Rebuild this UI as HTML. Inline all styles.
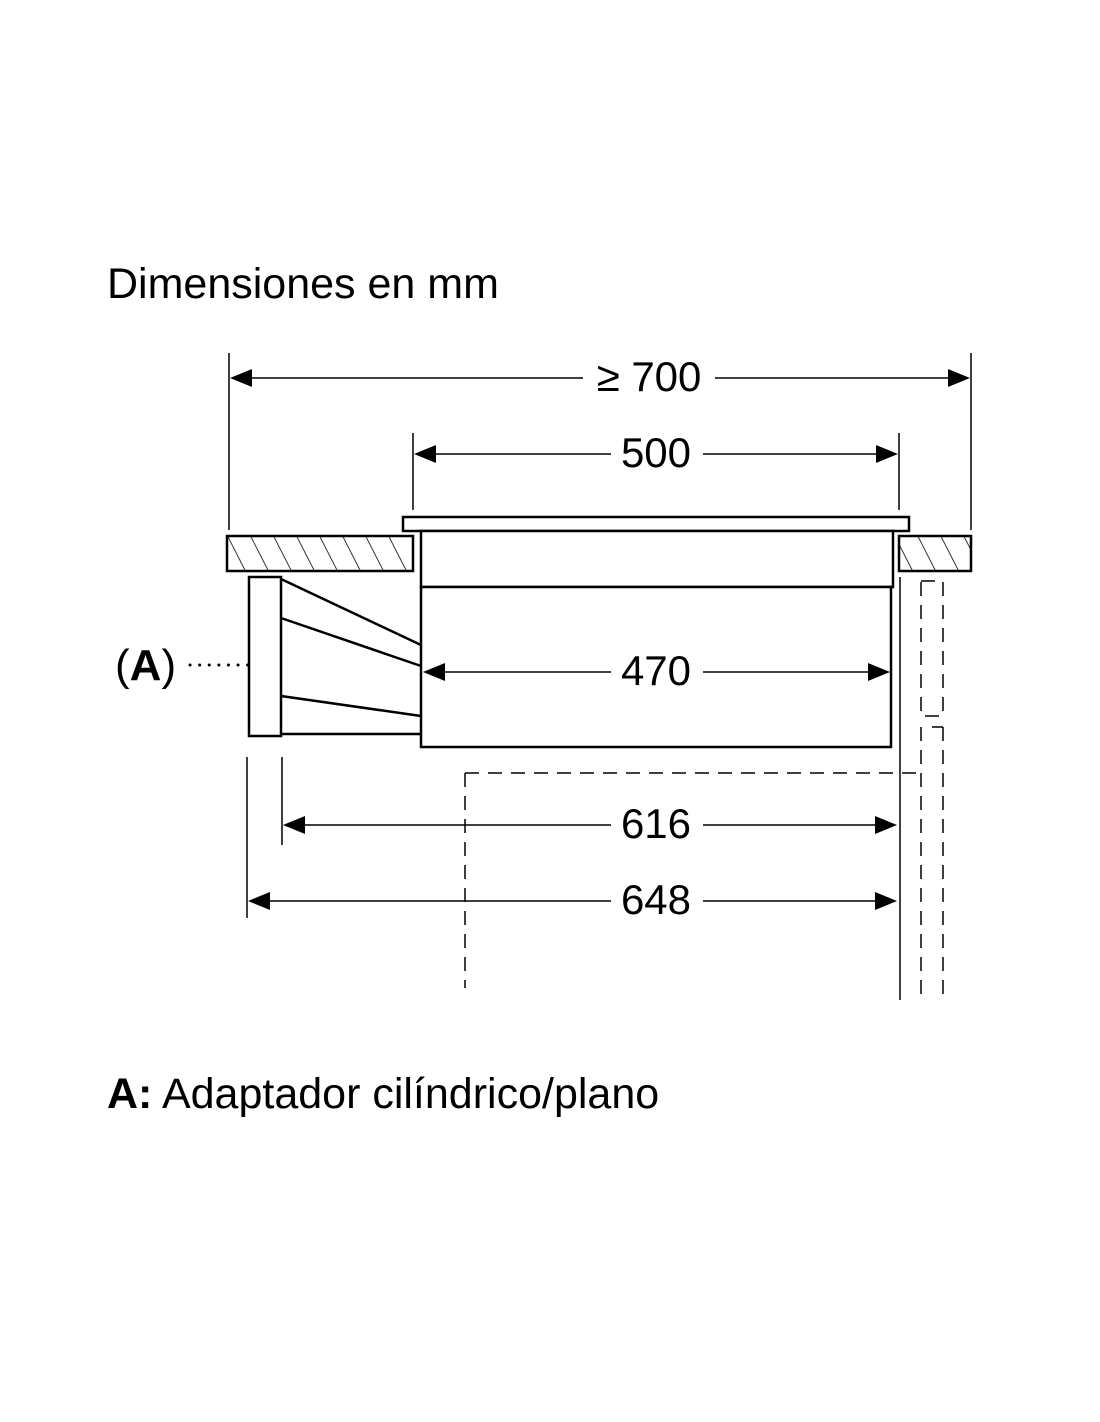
<!DOCTYPE html>
<html><head><meta charset="utf-8"><style>
html,body{margin:0;padding:0;background:#fff;}
svg{display:block;}
text{font-family:"Liberation Sans",Arial,sans-serif;fill:#000;}
</style></head><body>
<svg width="1100" height="1422" viewBox="0 0 1100 1422" xmlns="http://www.w3.org/2000/svg">
<defs>
<pattern id="h" patternUnits="userSpaceOnUse" width="20.5" height="20.5" patternTransform="rotate(-27)">
<line x1="0" y1="0" x2="0" y2="20.5" stroke="#000" stroke-width="1.6"/>
</pattern>
</defs>
<text x="107" y="298" font-size="43">Dimensiones en mm</text>

<g stroke="#000" stroke-width="2.5">
<rect x="227" y="536" width="186" height="35" fill="url(#h)"/>
<rect x="899" y="536" width="72" height="35" fill="url(#h)"/>
<rect x="403" y="517" width="506" height="14" fill="#fff"/>
<rect x="421" y="531" width="472" height="56" fill="#fff"/>
<rect x="421" y="587" width="470" height="160" fill="#fff"/>
<rect x="249" y="577" width="32" height="159" fill="#fff"/>
<line x1="281" y1="579" x2="421" y2="645"/>
<line x1="281" y1="618" x2="421" y2="666"/>
<line x1="281" y1="696" x2="421" y2="716"/>
<line x1="281" y1="734" x2="421" y2="734"/>
</g>

<g stroke="#000" stroke-width="1.5" fill="none">
<line x1="229" y1="353" x2="229" y2="530"/>
<line x1="971" y1="353" x2="971" y2="530"/>
<line x1="413" y1="433" x2="413" y2="510"/>
<line x1="899" y1="433" x2="899" y2="510"/>
<line x1="282" y1="757" x2="282" y2="845"/>
<line x1="247" y1="757" x2="247" y2="918"/>
<line x1="900" y1="577" x2="900" y2="1000"/>
<line x1="240" y1="378" x2="583" y2="378"/>
<line x1="715" y1="378" x2="960" y2="378"/>
<line x1="425" y1="454" x2="611" y2="454"/>
<line x1="703" y1="454" x2="888" y2="454"/>
<line x1="435" y1="672" x2="611" y2="672"/>
<line x1="703" y1="672" x2="880" y2="672"/>
<line x1="293" y1="825" x2="611" y2="825"/>
<line x1="703" y1="825" x2="887" y2="825"/>
<line x1="258" y1="901" x2="611" y2="901"/>
<line x1="703" y1="901" x2="887" y2="901"/>
</g>
<g fill="#000">
<polygon points="230,378 252,369 252,387"/>
<polygon points="970,378 948,369 948,387"/>
<polygon points="414,454 436,445 436,463"/>
<polygon points="898,454 876,445 876,463"/>
<polygon points="423,672 445,663 445,681"/>
<polygon points="890,672 868,663 868,681"/>
<polygon points="283,825 305,816 305,834"/>
<polygon points="897,825 875,816 875,834"/>
<polygon points="248,901 270,892 270,910"/>
<polygon points="897,901 875,892 875,910"/>
</g>
<g font-size="42" text-anchor="middle">
<text x="649" y="391">≥ 700</text>
<text x="656" y="467">500</text>
<text x="656" y="685">470</text>
<text x="656" y="838">616</text>
<text x="656" y="914">648</text>
</g>

<g stroke="#000" stroke-width="1.5" fill="none" stroke-dasharray="14,9">
<rect x="921" y="581" width="22" height="135"/>
<line x1="943" y1="727" x2="943" y2="1000"/>
<line x1="921" y1="727" x2="921" y2="1000"/>
<line x1="465" y1="773" x2="921" y2="773"/>
<line x1="465" y1="773" x2="465" y2="988"/>
</g>
<line x1="932" y1="727" x2="943" y2="727" stroke="#000" stroke-width="1.5"/>

<text x="115" y="680" font-size="44">(<tspan font-weight="bold">A</tspan>)</text>
<line x1="190" y1="665" x2="257" y2="665" stroke="#000" stroke-width="3" stroke-dasharray="0.1,9.5" stroke-linecap="round"/>

<text x="107" y="1108" font-size="43"><tspan font-weight="bold">A:</tspan> Adaptador cilíndrico/plano</text>
</svg>
</body></html>
